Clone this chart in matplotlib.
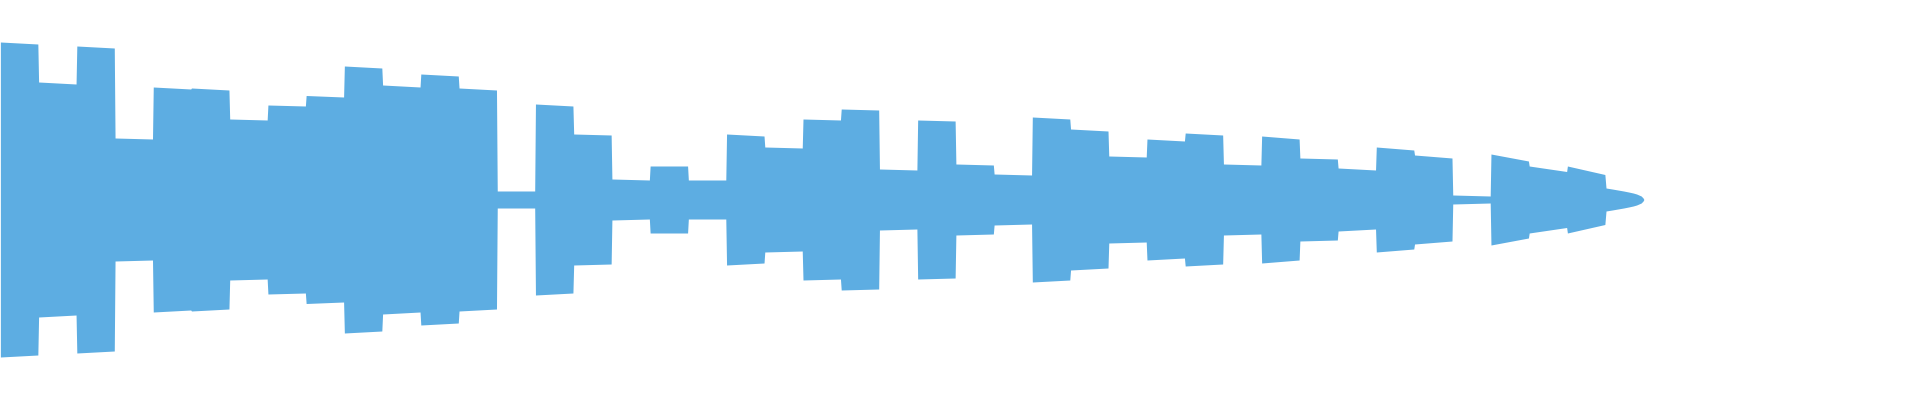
import matplotlib
matplotlib.use("Agg")
import matplotlib.pyplot as plt
import numpy as np

# Half-amplitude of each note (start of note, end of note), in the chart's units
note_start = [157.5, 117.5, 153.5, 61.5, 112.5, 111.5, 80.5, 94.5, 104.0, 133.5,
              114.5, 125.5, 111.5, 8.5, 95.5, 65.5, 20.5, 33.5, 19.5, 65.5,
              52.5, 80.5, 90.5, 30.5, 79.5, 35.5, 25.5, 82.5, 70.5, 43.5,
              60.5, 66.5, 35.5, 63.5, 41.5, 31.5, 52.5, 44.5, 4.5, 45.5,
              33.5, 33.5]
note_end = [155.5, 115.5, 151.5, 60.5, 110.5, 109.5, 79.5, 93.5, 102.5, 131.5,
            112.5, 123.5, 109.5, 8.5, 93.5, 64.5, 19.5, 33.5, 19.5, 63.5,
            51.5, 79.5, 89.5, 29.5, 78.5, 34.5, 24.5, 80.5, 68.5, 42.5,
            58.5, 64.5, 34.5, 60.5, 40.5, 29.5, 49.5, 41.5, 3.5, 38.5,
            28.0, 25.0]
# Final note fades out: position within the note and amplitude
fade_t = [0.02, 0.18, 0.33, 0.48, 0.61, 0.73, 0.82, 0.88, 0.94, 0.99, 1.01]
fade_a = [11.5, 10.5, 9.5, 8.5, 7.5, 6.5, 5.5, 4.5, 3.5, 1.5, 0.0]

NOTE_PX = 38.22
W, H = 1920, 400
color = "#5DADE2"

xs, ys = [], []
for i, (s, e) in enumerate(zip(note_start, note_end)):
    xs += [i + 0.01, i + 0.99]
    ys += [s, e]
last = len(note_start)
for t, a in zip(fade_t, fade_a):
    xs.append(last + t)
    ys.append(a)
xs = np.array(xs)
ys = np.array(ys)

fig = plt.figure(figsize=(W / 100, H / 100), dpi=100)
ax = fig.add_axes([0, 0, 1, 1])
ax.fill_between(xs, -ys, ys, color=color, linewidth=0, antialiased=False)
ax.set_xlim(0, W / NOTE_PX)
ax.set_ylim(-200.5, 199.5)
ax.axis("off")
fig.savefig("out.png", dpi=100, facecolor="white")
